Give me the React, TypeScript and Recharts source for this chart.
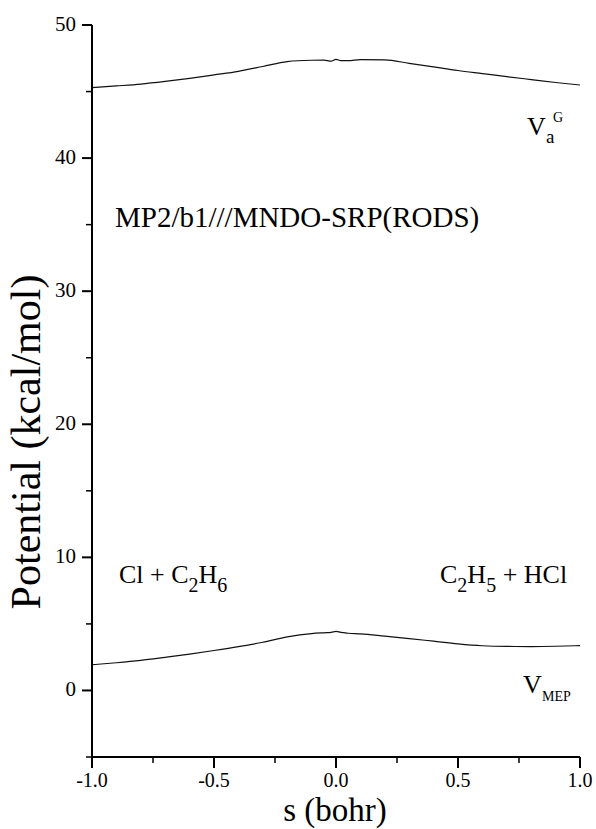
import React from 'react';
import { LineChart, Line, XAxis, YAxis, Customized } from 'recharts';

const sValues = [-1, -0.9, -0.8, -0.7, -0.6, -0.5, -0.4, -0.3, -0.2, -0.1, -0.05, -0.02, 0, 0.02, 0.05, 0.1, 0.2, 0.3, 0.4, 0.5, 0.6, 0.7, 0.8, 0.9, 1.0];
const vaG = [45.29, 45.42, 45.56, 45.76, 45.99, 46.25, 46.52, 46.88, 47.25, 47.35, 47.36, 47.28, 47.42, 47.32, 47.32, 47.4, 47.38, 47.12, 46.85, 46.58, 46.35, 46.12, 45.9, 45.68, 45.49];
const vMep = [1.93, 2.08, 2.26, 2.49, 2.73, 3.0, 3.29, 3.62, 4.02, 4.27, 4.33, 4.36, 4.44, 4.36, 4.3, 4.25, 4.08, 3.9, 3.7, 3.5, 3.36, 3.31, 3.3, 3.32, 3.37];

const xTicks = [-1, -0.75, -0.5, -0.25, 0, 0.25, 0.5, 0.75, 1];
const yTicks = [-5, 0, 5, 10, 15, 20, 25, 30, 35, 40, 45, 50];

const data = sValues.map((s, i) => ({ s, ga: vaG[i], mep: vMep[i] }));

const FONT = '"Liberation Serif", "Times New Roman", Times, serif';

const XTick = (props: any) => {
  const { x, y, payload } = props;
  const v = payload.value;
  const major = Math.abs(Math.round(v * 2) - v * 2) < 1e-6;
  return (
    <g>
      <line x1={x} x2={x} y1={y} y2={y + (major ? 11 : 6)} stroke="#000" strokeWidth={major ? 2 : 1.5} />
      {major && (
        <text x={x} y={y + 30} textAnchor="middle" fontFamily={FONT} fontSize={20} fill="#000">
          {v.toFixed(1)}
        </text>
      )}
    </g>
  );
};

const YTick = (props: any) => {
  const { x, y, payload } = props;
  const v = payload.value;
  const major = Math.abs(v % 10) < 1e-6;
  return (
    <g>
      <line x1={x} x2={x - (major ? 10 : 6)} y1={y} y2={y} stroke="#000" strokeWidth={major ? 2 : 1.5} />
      {major && (
        <text x={x - 16} y={y + 6} textAnchor="end" fontFamily={FONT} fontSize={21} fill="#000">
          {String(v)}
        </text>
      )}
    </g>
  );
};

const Annotations = () => (
  <g fontFamily={FONT} fill="#000">
    <text x={40} y={442} transform="rotate(-90 40 442)" textAnchor="middle" fontSize={42}>
      Potential (kcal/mol)
    </text>
    <text x={335} y={821} textAnchor="middle" fontSize={33}>
      s (bohr)
    </text>
    <text x={115} y={227} fontSize={29}>MP2/b1///MNDO-SRP(RODS)</text>
    <text x={119} y={583} fontSize={26}>
      Cl + C<tspan fontSize={20} dy={9}>2</tspan>
      <tspan dy={-9}>H</tspan>
      <tspan fontSize={20} dy={9}>6</tspan>
    </text>
    <text x={440} y={583} fontSize={26}>
      C<tspan fontSize={20} dy={9}>2</tspan>
      <tspan dy={-9}>H</tspan>
      <tspan fontSize={20} dy={9}>5</tspan>
      <tspan dy={-9}> + HCl</tspan>
    </text>
    <text x={527} y={135} fontSize={26}>V</text>
    <text x={546} y={143} fontSize={19}>a</text>
    <text x={553} y={122} fontSize={14}>G</text>
    <text x={523} y={693} fontSize={26}>V</text>
    <text x={542} y={701} fontSize={14}>MEP</text>
  </g>
);

export default function App() {
  return (
    <div style={{ position: 'absolute', left: 0, top: 0, background: '#fff' }}>
      <LineChart width={596} height={829} data={data} margin={{ top: 25, right: 16, bottom: 0, left: 0 }}>
        <XAxis
          dataKey="s"
          type="number"
          domain={[-1, 1]}
          ticks={xTicks}
          interval={0}
          tick={<XTick />}
          tickLine={false}
          tickSize={0}
          tickMargin={0}
          height={72}
          axisLine={{ stroke: '#000', strokeWidth: 2 }}
          allowDataOverflow
        />
        <YAxis
          type="number"
          domain={[-5, 50]}
          ticks={yTicks}
          interval={0}
          tick={<YTick />}
          tickLine={false}
          tickSize={0}
          tickMargin={0}
          width={92}
          axisLine={{ stroke: '#000', strokeWidth: 2 }}
          allowDataOverflow
        />
        <Line dataKey="ga" type="monotone" stroke="#111" strokeWidth={1.2} dot={false} isAnimationActive={false} />
        <Line dataKey="mep" type="monotone" stroke="#111" strokeWidth={1.2} dot={false} isAnimationActive={false} />
        <Customized component={Annotations} />
      </LineChart>
    </div>
  );
}
